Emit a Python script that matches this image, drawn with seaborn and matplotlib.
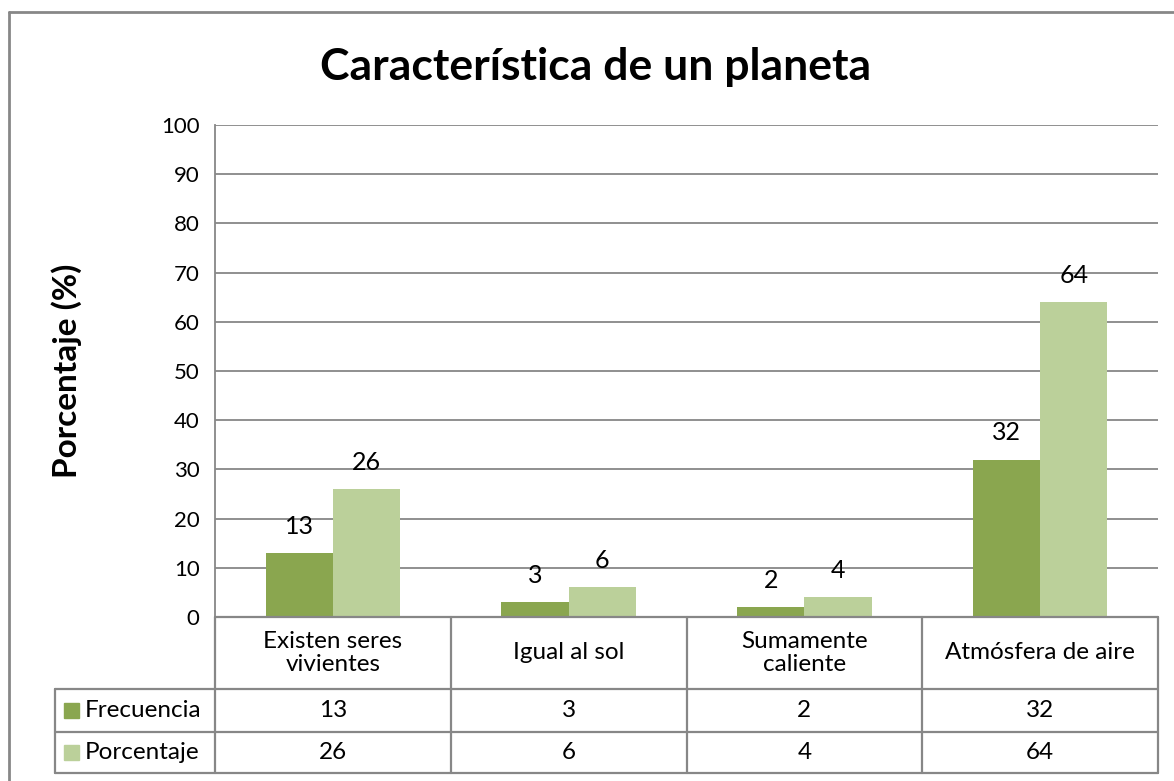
import matplotlib
matplotlib.use("Agg")
import matplotlib.pyplot as plt
import matplotlib.transforms as mtransforms
from matplotlib.patches import Rectangle
import pandas as pd
import seaborn as sns

# datos del gráfico
categorias = ["Existen seres\nvivientes", "Igual al sol", "Sumamente\ncaliente", "Atmósfera de aire"]
series = ["Frecuencia", "Porcentaje"]
frecuencia = [13, 3, 2, 32]
porcentaje = [26, 6, 4, 64]
ticks_y = list(range(0, 101, 10))

colores = {"Frecuencia": "#8aa64f", "Porcentaje": "#bbd09a"}
gris = "#878787"

df = pd.DataFrame({
    "categoria": categorias * 2,
    "serie": ["Frecuencia"] * 4 + ["Porcentaje"] * 4,
    "valor": frecuencia + porcentaje,
})

sns.set_theme(style="white")
plt.rcParams["font.family"] = ["Lato", "DejaVu Sans"]
plt.rcParams["text.color"] = "black"
plt.rcParams["axes.labelcolor"] = "black"

fig = plt.figure(figsize=(11.74, 7.81), dpi=100)
ax = fig.add_axes([215 / 1174, 1 - 617 / 781, 943 / 1174, 492 / 781])

sns.barplot(data=df, x="categoria", y="valor", hue="serie", palette=colores,
            width=0.57, gap=0, saturation=1, legend=False, linewidth=0, ax=ax)

ax.set_ylim(0, 100)
ax.set_xlim(-0.5, 3.5)
ax.set_yticks(ticks_y)
ax.yaxis.grid(True, color=gris, linewidth=1.3)
ax.set_axisbelow(True)
ax.tick_params(axis="y", labelsize=16, length=0, pad=11, colors="black")
ax.tick_params(axis="x", labelbottom=False, length=0)
ax.set_xlabel("")
ax.set_ylabel("Porcentaje (%)", fontsize=24, fontweight="bold", color="black")
ax.yaxis.set_label_coords(-0.141, 0.5)
for s in ["top", "right", "bottom"]:
    ax.spines[s].set_visible(False)
ax.spines["left"].set_color(gris)
ax.spines["left"].set_linewidth(1.3)

# etiquetas de datos
for cont in ax.containers:
    ax.bar_label(cont, padding=11, fontsize=18, color="black")

fig.text(0.507, 1 - 80 / 781, "Característica de un planeta", ha="center",
         va="baseline", fontsize=32, fontweight="bold", color="black")

# tabla de datos debajo del eje
tr = mtransforms.blended_transform_factory(ax.transData, ax.transAxes)
y0, y1, y2, y3 = 0.0, -0.146, -0.234, -0.317
xl = -0.5 - 160 / 943 * 4
kw = dict(color=gris, linewidth=1.6, clip_on=False)
ax.plot([-0.5, 3.5], [y0, y0], transform=tr, **kw)
ax.plot([xl, 3.5], [y1, y1], transform=tr, **kw)
ax.plot([xl, 3.5], [y2, y2], transform=tr, **kw)
ax.plot([xl, 3.5], [y3, y3], transform=tr, **kw)
ax.plot([xl, xl], [y1, y3], transform=tr, **kw)
for b in [-0.5, 0.5, 1.5, 2.5, 3.5]:
    ax.plot([b, b], [y0, y3], transform=tr, **kw)

for i, cat in enumerate(categorias):
    ax.text(i, (y0 + y1) / 2, cat, transform=tr, ha="center", va="center",
            fontsize=17.5, linespacing=1.1)
    ax.text(i, (y1 + y2) / 2, str(frecuencia[i]), transform=tr, ha="center",
            va="center", fontsize=17.5)
    ax.text(i, (y2 + y3) / 2, str(porcentaje[i]), transform=tr, ha="center",
            va="center", fontsize=17.5)

sq_x = xl + 9 / 943 * 4
sq_w = 15 / 943 * 4
sq_h = 15 / 492
for nombre, (ya, yb) in zip(series, [(y1, y2), (y2, y3)]):
    yc = (ya + yb) / 2
    ax.add_patch(Rectangle((sq_x, yc - sq_h / 2), sq_w, sq_h, transform=tr,
                           color=colores[nombre], clip_on=False))
    ax.text(xl + 30 / 943 * 4, yc, nombre, transform=tr, ha="left", va="center",
            fontsize=17.5)

# marco exterior
fig.add_artist(plt.Line2D([9 / 1174, 1], [1 - 12 / 781, 1 - 12 / 781],
                          color=gris, linewidth=2, transform=fig.transFigure))
fig.add_artist(plt.Line2D([9 / 1174, 9 / 1174], [0, 1 - 12 / 781],
                          color=gris, linewidth=2, transform=fig.transFigure))

fig.savefig("out.png", dpi=100)
